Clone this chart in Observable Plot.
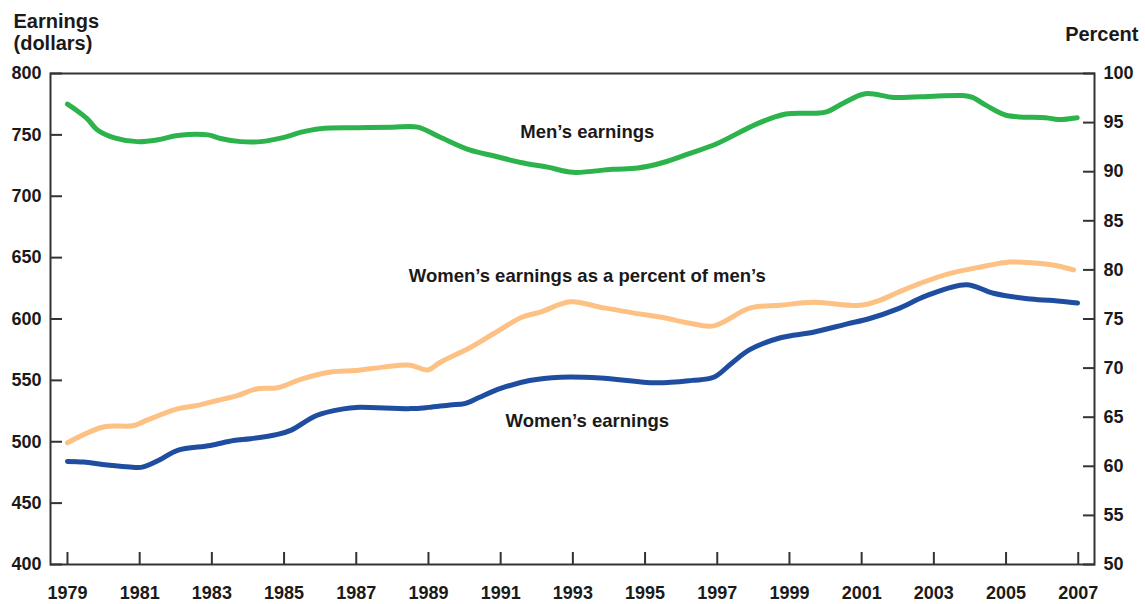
<!DOCTYPE html>
<html><head><meta charset="utf-8">
<script src="https://cdn.jsdelivr.net/npm/d3@7"></script>
<script src="https://cdn.jsdelivr.net/npm/@observablehq/plot@0.6"></script>
<style>body{margin:0;background:#fff;}</style>
</head><body><div id="chart"></div>
<script>
// Men's median weekly earnings (constant dollars)
const menYears  = [1979.0,1979.25,1979.55,1979.83,1980.3,1980.94,1981.5,1982.05,1982.9,1983.24,1983.8,1984.35,1985.0,1985.45,1986.0,1987.0,1988.0,1988.7,1989.33,1990.16,1990.8,1991.55,1992.3,1993.0,1994.1,1994.8,1995.5,1996.2,1997.0,1998.1,1998.9,2000.0,2000.5,2001.1,2001.9,2003.0,2003.8,2004.07,2004.45,2005.0,2006.1,2006.45,2006.97];
const menValues = [775,770,763,754,747.6,744.5,746,749.5,750,747,744.5,744.5,748,752,755,755.8,756.2,756.3,748,737.5,733,727.5,723.7,719.5,722,723,727.5,734.5,743,759,767,768.5,776,783.5,780.5,781.5,782,780.5,774,766,764,762.5,764];

// Women's median weekly earnings (constant dollars)
const womenYears  = [1979.0,1979.45,1980.1,1980.94,1981.1,1981.6,1982.05,1982.96,1983.6,1984.07,1984.82,1985.2,1985.9,1986.65,1987.0,1988.5,1989.0,1989.6,1990.0,1990.4,1991.0,1991.8,1992.66,1993.76,1995.3,1996.3,1996.9,1997.4,1997.9,1998.75,1999.66,2000.6,2001.2,2002.0,2002.8,2003.9,2004.65,2005.6,2006.3,2006.98];
const womenValues = [484,483.5,481,479,479.5,486,493,497,501,502.4,506,509.5,521.4,526.8,528,527,528,530,531,536,543.4,549.9,552.6,552,548,550,552.5,564,575,584.7,589.2,596,600.2,608.3,619,628,621,616.5,615,613];

// Women's earnings as a percent of men's
const ratioYears  = [1979.0,1980.0,1980.84,1981.2,1982.05,1982.6,1983.15,1983.7,1984.26,1984.82,1985.5,1986.3,1987.0,1987.75,1988.5,1988.97,1989.33,1990.16,1990.8,1991.6,1992.1,1992.93,1993.76,1994.7,1995.5,1996.2,1996.9,1997.9,1998.75,1999.66,2000.97,2001.5,2002.0,2002.6,2003.4,2004.3,2005.1,2005.8,2006.3,2006.87];
const ratioValues = [62.4,64.0,64.15,64.7,65.85,66.2,66.7,67.2,67.9,68.0,68.9,69.6,69.75,70.1,70.3,69.8,70.6,72.1,73.5,75.2,75.7,76.75,76.2,75.6,75.15,74.6,74.3,76.1,76.4,76.7,76.4,76.9,77.7,78.6,79.6,80.3,80.8,80.7,80.5,80.0];

const dollarTicks  = [400,450,500,550,600,650,700,750,800];
const percentTicks = [50,55,60,65,70,75,80,85,90,95,100];
const yearTicks    = [1979,1981,1983,1985,1987,1989,1991,1993,1995,1997,1999,2001,2003,2005,2007];

const seriesLabels = [
  {year: 1993.4, value: 752, text: "Men’s earnings"},
  {year: 1993.4, value: 635, text: "Women’s earnings as a percent of men’s"},
  {year: 1993.4, value: 517, text: "Women’s earnings"}
];

// percent axis (50–100) shares the frame with dollars (400–800)
const toDollars = p => 400 + (p - 50) * 8;
const toPercent = d => (d - 400) / 8 + 50;

const men   = menYears.map((x, i) => ({x, y: menValues[i]}));
const women = womenYears.map((x, i) => ({x, y: womenValues[i]}));
const ratio = ratioYears.map((x, i) => ({x, y: toDollars(ratioValues[i])}));

const font = "'Liberation Sans', Arial, Helvetica, sans-serif";
const axisColor = "#333";

const chart = Plot.plot({
  width: 1145, height: 604,
  marginLeft: 50, marginRight: 51, marginTop: 73, marginBottom: 40,
  style: {fontFamily: font, fontWeight: "bold", fontSize: "18px", color: "#1a1a1a", background: "#fff", overflow: "visible"},
  x: {domain: [1978.53, 2007.45]},
  y: {domain: [400, 800]},
  marks: [
    Plot.line(ratio, {x: "x", y: "y", stroke: "#fdc183", strokeWidth: 5, curve: "catmull-rom"}),
    Plot.line(women, {x: "x", y: "y", stroke: "#1f4ea1", strokeWidth: 5, curve: "catmull-rom"}),
    Plot.line(men,   {x: "x", y: "y", stroke: "#2db34b", strokeWidth: 5, curve: "catmull-rom"}),
    Plot.frame({stroke: axisColor, strokeWidth: 2}),
    // inward ticks
    Plot.axisY(dollarTicks, {anchor: "left", tickSize: -12, text: null, stroke: axisColor, strokeWidth: 2, label: null}),
    Plot.axisY(percentTicks.map(toDollars), {anchor: "right", tickSize: -12, text: null, stroke: axisColor, strokeWidth: 2, label: null}),
    Plot.axisX(yearTicks, {anchor: "bottom", tickSize: -12, text: null, stroke: axisColor, strokeWidth: 2, label: null}),
    // tick labels
    Plot.axisY(dollarTicks, {anchor: "left", tickSize: 0, tickPadding: 9, label: null, fontSize: 18, fill: "#1a1a1a"}),
    Plot.axisY(percentTicks.map(toDollars), {anchor: "right", tickSize: 0, tickPadding: 9, label: null, fontSize: 18, fill: "#1a1a1a", tickFormat: d => String(Math.round(toPercent(d)))}),
    Plot.axisX(yearTicks, {anchor: "bottom", tickSize: 0, tickPadding: 22, label: null, fontSize: 18, fill: "#1a1a1a", tickFormat: d => String(d)}),
    // series labels
    Plot.text(seriesLabels, {x: "year", y: "value", text: "text", fontSize: 18.5, fontWeight: "bold", fill: "#1a1a1a"}),
    // axis titles
    Plot.text(["Earnings\n(dollars)"], {frameAnchor: "top-left", textAnchor: "start", lineAnchor: "bottom", dx: -37, dy: -24, lineHeight: 1.1, fontSize: 20, fontWeight: "bold", fill: "#1a1a1a"}),
    Plot.text(["Percent"], {frameAnchor: "top-right", textAnchor: "end", lineAnchor: "bottom", dx: 44, dy: -33, fontSize: 20, fontWeight: "bold", fill: "#1a1a1a"})
  ]
});
document.getElementById("chart").appendChild(chart);
</script>
</body></html>
